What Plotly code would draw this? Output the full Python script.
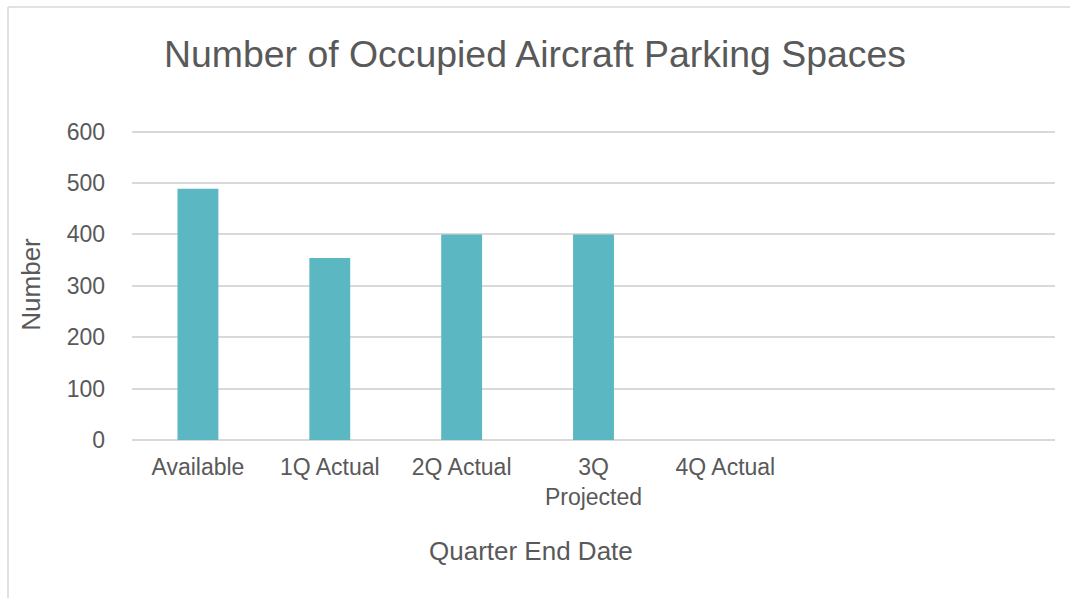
import plotly.graph_objects as go

categories = ["Available", "1Q Actual", "2Q Actual", "3Q<br>Projected", "4Q Actual", "", ""]
occupied = [489, 354, 400, 400, None, None, None]
ytickvals = [0, 100, 200, 300, 400, 500, 600]
ymax = 605

W, H = 1070, 598
B = 158
L, R = 132, 15
ph = 308 * ymax / 600
T = H - B - ph
pw = W - L - R

def px_x(x):
    return (x - L) / pw

def px_y(y):
    return (H - B - y) / ph

font_family = "Liberation Sans, Arial, sans-serif"
grey = "#595959"
grid = "#d9d9d9"

xs = list(range(len(categories)))

fig = go.Figure()
fig.add_trace(go.Bar(x=xs, y=occupied, marker_color="#5bb7c1",
                     marker_line_width=0, width=0.31))

fig.update_layout(
    width=W, height=H,
    margin=dict(l=L, r=R, t=T, b=B),
    plot_bgcolor="white", paper_bgcolor="white",
    showlegend=False,
    font=dict(family=font_family, color=grey, size=23),
    title=dict(text="Number of Occupied Aircraft Parking Spaces",
               x=0.5, xref="container", xanchor="center",
               y=1 - 54 / H, yref="container", yanchor="middle",
               font=dict(size=37.4, color=grey)),
    xaxis=dict(range=[-0.5, len(categories) - 0.5], tickvals=xs, ticktext=categories,
               showgrid=False, zeroline=False, showline=False, ticks="",
               ticklabelstandoff=11),
    yaxis=dict(range=[0, ymax], tickvals=ytickvals, showgrid=True, gridcolor=grid,
               gridwidth=1.5, zeroline=True, zerolinecolor=grid, zerolinewidth=1.5,
               showline=False, ticks="", ticklabelstandoff=26,
               title=dict(text="Number", font=dict(size=26, color=grey), standoff=18)),
    annotations=[
        dict(text="Quarter End Date", xref="paper", yref="paper",
             x=px_x(531), y=px_y(551), xanchor="center", yanchor="middle",
             showarrow=False, font=dict(size=26, color=grey)),
    ],
    shapes=[
        dict(type="line", xref="paper", yref="paper",
             x0=px_x(8), x1=px_x(1070), y0=px_y(7.5), y1=px_y(7.5),
             line=dict(color=grid, width=1.5)),
        dict(type="line", xref="paper", yref="paper",
             x0=px_x(8), x1=px_x(8), y0=px_y(7.5), y1=px_y(598),
             line=dict(color=grid, width=1.5)),
    ],
)

fig.write_html("out.html", config={"displayModeBar": False},
               post_script="document.body.style.margin='0';")
